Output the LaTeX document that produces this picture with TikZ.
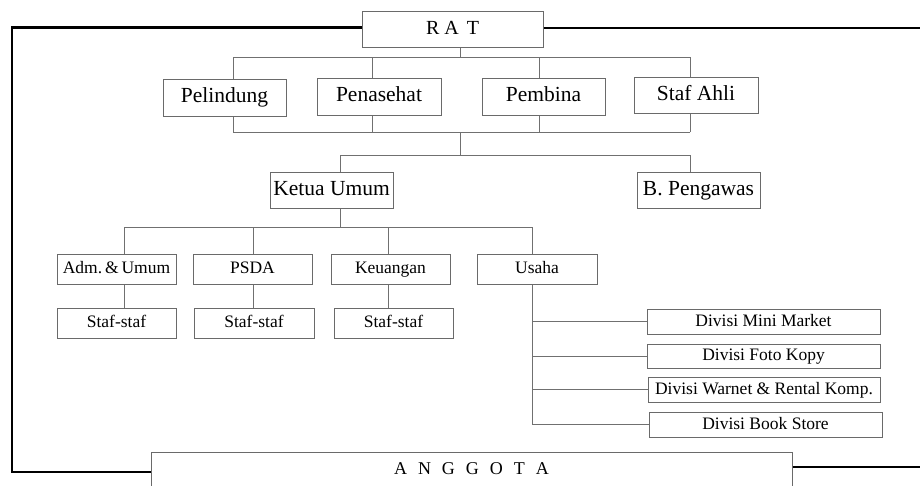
\documentclass[tikz,border=0pt]{standalone}
\usepackage{fontspec}
\setmainfont{Liberation Serif}
\definecolor{boxgray}{HTML}{6A6A6A}
\definecolor{linegray}{HTML}{707070}
\begin{document}
\begin{tikzpicture}[x=1pt,y=-1pt,
  box/.style={draw=boxgray, line width=1pt, inner sep=0pt, align=center, fill=white},
  conn/.style={draw=linegray, line width=1pt},
  frame/.style={draw=black, line width=2.3pt},
  big/.style={font=\fontsize{21.5}{24}\selectfont, text height=15pt, text depth=4.5pt},
  mid/.style={font=\fontsize{17.5}{20}\selectfont, text height=12.5pt, text depth=3.8pt},
  small/.style={font=\fontsize{17.5}{20}\selectfont, text height=13.5pt, text depth=3.8pt}]
\useasboundingbox (0,0) rectangle (920,485);
\clip (0,0) rectangle (920,485);

% boxes
\node[box, minimum width=181pt, minimum height=36pt, font=\fontsize{20}{24}\selectfont, text height=14pt, text depth=4pt] (rat) at (452.5,29) {R\hspace{5pt}A\hspace{8pt}T};
\node[box, big, minimum width=123pt, minimum height=37pt] (pel) at (224.5,97.5) {Pelindung};
\node[box, big, minimum width=124pt, minimum height=37pt] (pen) at (379,96.5) {Penasehat};
\node[box, big, minimum width=123pt, minimum height=37pt] (pem) at (543.5,96.5) {Pembina};
\node[box, big, minimum width=124pt, minimum height=36pt] (sta) at (696,95) {Staf Ahli};
\node[box, big, minimum width=123pt, minimum height=36pt] (ket) at (331.5,190) {Ketua Umum};
\node[box, big, minimum width=123pt, minimum height=36pt] (bpe) at (698.5,190) {B. Pengawas};
\node[box, mid, minimum width=119pt, minimum height=30pt] (adm) at (116.5,269) {Adm.\,\&\,Umum};
\node[box, mid, minimum width=119pt, minimum height=30pt] (psd) at (252.5,269) {PSDA};
\node[box, mid, minimum width=119pt, minimum height=30pt] (keu) at (390.5,269) {Keuangan};
\node[box, mid, minimum width=120pt, minimum height=30pt] (usa) at (537,269) {Usaha};
\node[box, mid, minimum width=119pt, minimum height=30pt] (s1) at (116.5,323) {Staf-staf};
\node[box, mid, minimum width=120pt, minimum height=30pt] (s2) at (254,323) {Staf-staf};
\node[box, mid, minimum width=119pt, minimum height=30pt] (s3) at (393.5,323) {Staf-staf};
\node[box, small, minimum width=233pt, minimum height=25pt] (d1) at (763.5,321.5) {Divisi Mini Market};
\node[box, small, minimum width=233pt, minimum height=24pt] (d2) at (763.5,356) {Divisi Foto Kopy};
\node[box, small, minimum width=232pt, minimum height=25pt] (d3) at (764,389.5) {Divisi Warnet \& Rental Komp.};
\node[box, small, minimum width=233pt, minimum height=25pt] (d4) at (765.5,424.5) {Divisi Book Store};
\node[box, font=\fontsize{18}{20}\selectfont, minimum width=641pt, minimum height=40pt] (ang) at (471.5,472)
  {\raisebox{6pt}{A\hspace{11pt}N\hspace{11pt}G\hspace{11pt}G\hspace{11pt}O\hspace{11pt}T\hspace{11pt}A}};

% top bus
\coordinate (b1L) at (233,57);
\coordinate (b1R) at (690,57);
\coordinate (b1M) at (460,57);
\coordinate (x2) at (372,57);
\coordinate (x3) at (539,57);
\draw[conn] (b1L) -- (b1R);
\draw[conn] (b1M) -- (b1M |- rat.south);
\draw[conn] (b1L) -- (b1L |- pel.north);
\draw[conn] (x2) -- (x2 |- pen.north);
\draw[conn] (x3) -- (x3 |- pem.north);
\draw[conn] (b1R) -- (b1R |- sta.north);

% second bus
\coordinate (b2L) at (233,132);
\coordinate (b2R) at (690,132);
\coordinate (b2M) at (460,132);
\draw[conn] (b2L) -- (b2R);
\draw[conn] (b2L) -- (b2L |- pel.south);
\draw[conn] (x2 |- b2L) -- (x2 |- pen.south);
\draw[conn] (x3 |- b2L) -- (x3 |- pem.south);
\draw[conn] (b2R) -- (b2R |- sta.south);

% third bus
\coordinate (b3L) at (340,155);
\coordinate (b3R) at (690,155);
\coordinate (b3M) at (460,155);
\draw[conn] (b2M) -- (b3M);
\draw[conn] (b3L) -- (b3R);
\draw[conn] (b3L) -- (b3L |- ket.north);
\draw[conn] (b3R) -- (b3R |- bpe.north);

% fourth bus
\coordinate (b4L) at (124,227);
\coordinate (b4R) at (532,227);
\coordinate (b4M) at (340,227);
\coordinate (c2) at (253,227);
\coordinate (c3) at (388,227);
\draw[conn] (b4M |- ket.south) -- (b4M);
\draw[conn] (b4L) -- (b4R);
\draw[conn] (b4L) -- (b4L |- adm.north);
\draw[conn] (c2) -- (c2 |- psd.north);
\draw[conn] (c3) -- (c3 |- keu.north);
\draw[conn] (b4R) -- (b4R |- usa.north);
\draw[conn] (b4L |- adm.south) -- (b4L |- s1.north);
\draw[conn] (c2 |- psd.south) -- (c2 |- s2.north);
\draw[conn] (c3 |- keu.south) -- (c3 |- s3.north);

% usaha divisions
\draw[conn] (b4R |- usa.south) |- (d4.west);
\draw[conn] (b4R |- d1.west) -- (d1.west);
\draw[conn] (b4R |- d2.west) -- (d2.west);
\draw[conn] (b4R |- d3.west) -- (d3.west);

% outer frame
\coordinate (fTL) at (12,27.5);
\coordinate (fBL) at (12,472);
\coordinate (fTR) at (920,28);
\coordinate (fBR) at (920,467);
\draw[frame] (rat.west |- fTL) -- (fTL) -- (fBL) -- (ang.west);
\draw[frame] (rat.east |- fTR) -- (fTR);
\draw[frame] (ang.east |- fBR) -- (fBR);
\end{tikzpicture}
\end{document}
